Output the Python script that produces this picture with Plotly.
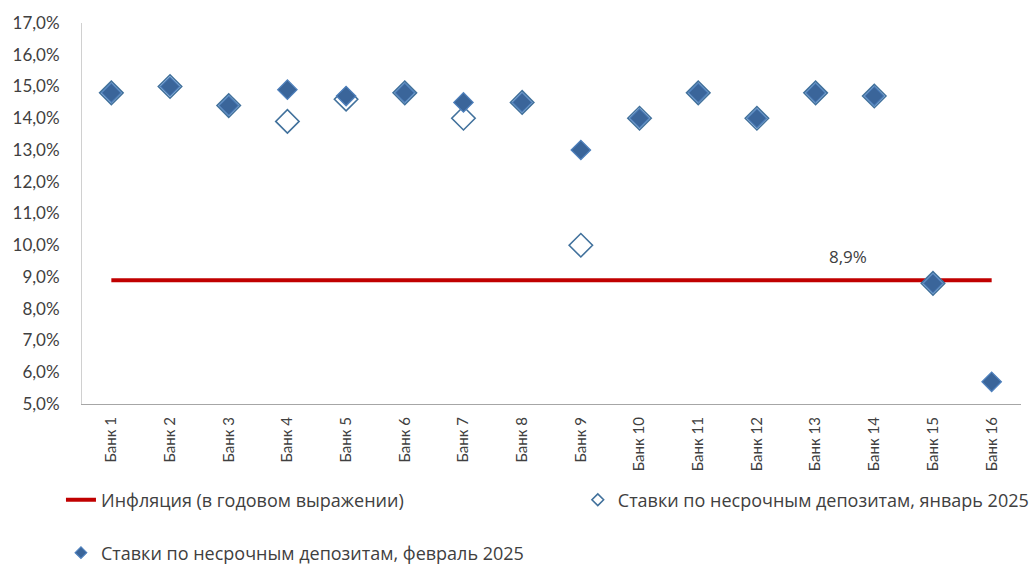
import plotly.graph_objects as go

# Банки и ставки по несрочным депозитам, %
banks = [f"Банк {i}" for i in range(1, 17)]
rates_feb = [14.8, 15.0, 14.4, 14.9, 14.7, 14.8, 14.5, 14.5, 13.0, 14.0, 14.8, 14.0, 14.8, 14.7, 8.8, 5.7]
rates_jan = [14.8, 15.0, 14.4, 13.9, 14.6, 14.8, 14.0, 14.5, 10.0, 14.0, 14.8, 14.0, 14.8, 14.7, 8.8, None]
inflation = 8.9

name_infl = "Инфляция (в годовом выражении)"
name_jan = "Ставки по несрочным депозитам, январь 2025"
name_feb = "Ставки по несрочным депозитам, февраль 2025"

TXT = "#404040"
LEG_FONT = dict(family="Open Sans", size=18, color=TXT)

JAN_MARKER = dict(symbol="diamond", color="white", line=dict(color="#41719C", width=1.6))
FEB_MARKER = dict(symbol="diamond", color="#3A659A", line=dict(color="#4F81BD", width=1.2))

fig = go.Figure()

fig.add_trace(go.Scatter(
    x=banks, y=[inflation] * len(banks), mode="lines", name=name_infl,
    line=dict(color="#C00000", width=4), legend="legend",
))
fig.add_trace(go.Scatter(
    x=banks, y=rates_jan, mode="markers", name=name_jan,
    marker=dict(size=18, **JAN_MARKER), showlegend=False,
))
fig.add_trace(go.Scatter(
    x=banks, y=rates_feb, mode="markers", name=name_feb,
    marker=dict(size=15, **FEB_MARKER), showlegend=False,
))

# Элементы легенды с уменьшенными маркерами
fig.add_trace(go.Scatter(
    x=[None], y=[None], mode="markers", name=name_jan,
    marker=dict(size=9, **JAN_MARKER), legend="legend2",
))
fig.add_trace(go.Scatter(
    x=[None], y=[None], mode="markers", name=name_feb,
    marker=dict(size=9, **FEB_MARKER), legend="legend3",
))

# Подпись значения инфляции
fig.add_annotation(
    x=12.55, y=inflation, xref="x", yref="y",
    text=f"{inflation:.1f}%".replace(".", ","), showarrow=False,
    yshift=24, font=dict(family="Open Sans", size=17, color=TXT),
)

fig.update_layout(
    width=1032, height=566,
    margin=dict(l=82, r=11, t=23, b=162, autoexpand=False),
    paper_bgcolor="white", plot_bgcolor="white",
    showlegend=True,
    legend=dict(orientation="h", x=-0.0224, y=-0.252, xanchor="left", yanchor="middle",
                font=LEG_FONT, bgcolor="rgba(0,0,0,0)"),
    legend2=dict(orientation="h", x=0.528, y=-0.252, xanchor="left", yanchor="middle",
                 font=LEG_FONT, bgcolor="rgba(0,0,0,0)"),
    legend3=dict(orientation="h", x=-0.0224, y=-0.391, xanchor="left", yanchor="middle",
                 font=LEG_FONT, bgcolor="rgba(0,0,0,0)"),
)

fig.update_xaxes(
    type="category", categoryorder="array", categoryarray=banks,
    range=[-0.5, len(banks) - 0.5],
    showline=True, linecolor="#A6A6A6", linewidth=1,
    showgrid=False, zeroline=False, ticks="",
    tickangle=-90, ticklabelstandoff=6,
    tickfont=dict(family="Lato", size=15, color=TXT),
)
fig.update_yaxes(
    range=[5, 17], tickvals=list(range(5, 18)),
    ticktext=[f"{v},0%" for v in range(5, 18)],
    showline=True, linecolor="#D0D0D0", linewidth=1,
    showgrid=False, zeroline=False, ticks="", ticklabelstandoff=18,
    tickfont=dict(family="Lato", size=17, color=TXT),
)

fig.write_html("out.html")
